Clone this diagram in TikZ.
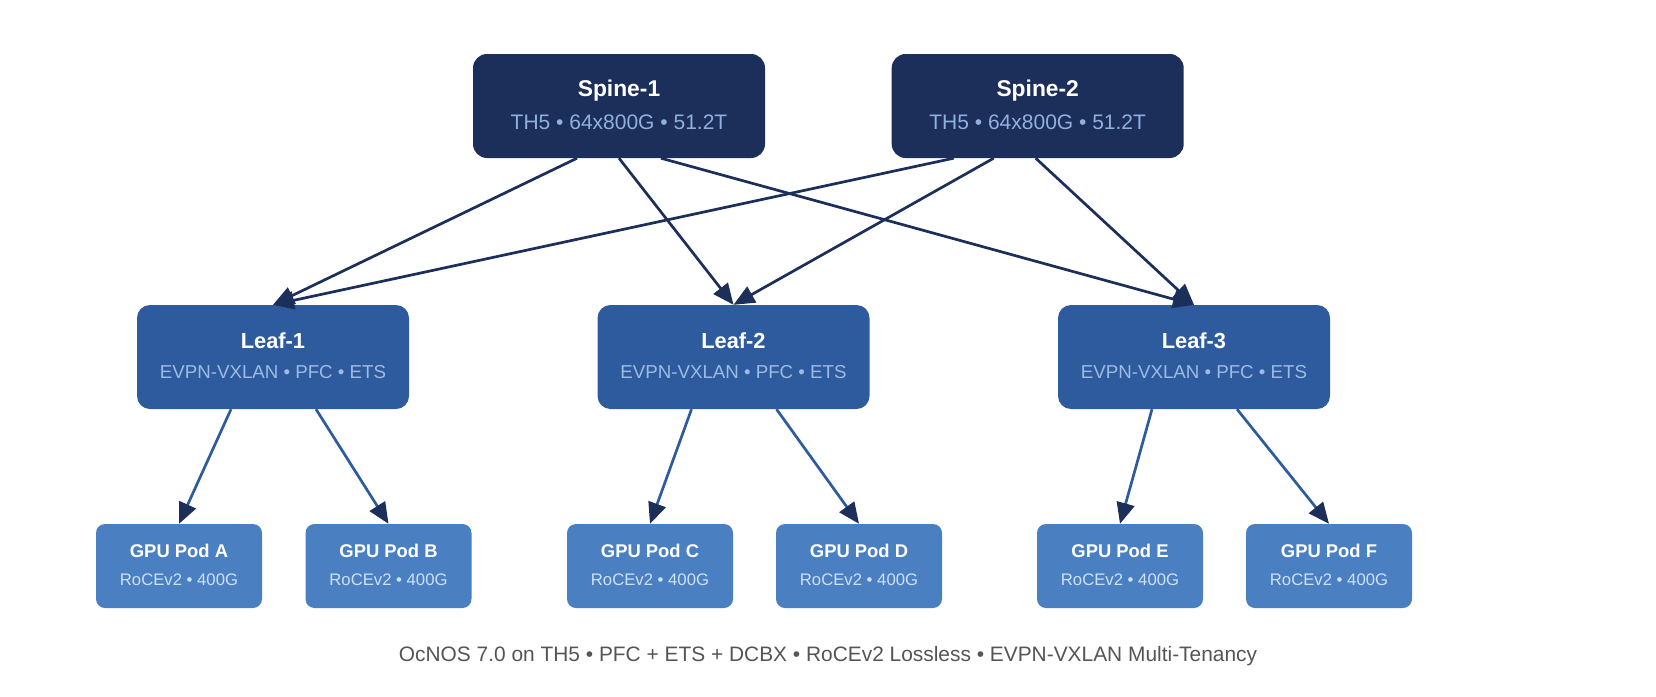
\documentclass[tikz,border=0pt]{standalone}
\usepackage{fontspec}
\setmainfont{Liberation Sans}
\usetikzlibrary{arrows.meta,calc}
\definecolor{spinec}{HTML}{1C2E5A}
\definecolor{leafc}{HTML}{2D5B9E}
\definecolor{podc}{HTML}{4A80C2}
\definecolor{spinesub}{HTML}{90B0E0}
\definecolor{leafsub}{HTML}{9DBBE3}
\definecolor{podsub}{HTML}{D0E0F5}
\definecolor{footc}{HTML}{555555}
\begin{document}
\begin{tikzpicture}[x=1pt,y=-1pt,
  spinebox/.style={fill=spinec, minimum width=292pt, minimum height=104pt, rounded corners=14pt, inner sep=0pt},
  leafbox/.style={fill=leafc, minimum width=272pt, minimum height=104pt, rounded corners=13pt, inner sep=0pt},
  podbox/.style={fill=podc, minimum width=166pt, minimum height=84pt, rounded corners=9pt, inner sep=0pt},
  spinetitle/.style={anchor=base, inner sep=0pt, text=white, font=\bfseries\fontsize{22.8}{26}\selectfont},
  spinesubt/.style={anchor=base, inner sep=0pt, text=spinesub, font=\fontsize{21}{24}\selectfont},
  leaftitle/.style={anchor=base, inner sep=0pt, text=white, font=\bfseries\fontsize{21.8}{26}\selectfont},
  leafsubt/.style={anchor=base, inner sep=0pt, text=leafsub, font=\fontsize{18.7}{22}\selectfont},
  podtitle/.style={anchor=base, inner sep=0pt, text=white, font=\bfseries\fontsize{18.4}{22}\selectfont},
  podsubt/.style={anchor=base, inner sep=0pt, text=podsub, font=\fontsize{16.7}{20}\selectfont},
  footer/.style={anchor=base, inner sep=0pt, text=footc, font=\fontsize{20.9}{24}\selectfont},
  spedge/.style={draw=spinec, line width=2.7pt, -{Triangle[length=21pt,width=18pt]}},
  podedge/.style={draw=leafc, line width=2.7pt, -{Triangle[length=21pt,width=18pt,color=spinec,fill=spinec]}}
]
\useasboundingbox[fill=white] (0,0) rectangle (1656,696);

% spines
\node[spinebox] (s1) at (619,106) {};
\node[spinebox] (s2) at (1037.7,106) {};
\node[spinetitle] (s1t) at (619,96) {Spine-1};
\node[spinesubt] (s1s) at (619,129) {TH5 • 64x800G • 51.2T};
\node[spinetitle] (s2t) at (1037.7,96) {Spine-2};
\node[spinesubt] (s2s) at (1037.7,129) {TH5 • 64x800G • 51.2T};

% leaves
\node[leafbox] (l1) at (273,357) {};
\node[leafbox] (l2) at (733.5,357) {};
\node[leafbox] (l3) at (1194,357) {};
\node[leaftitle] (l1t) at (273,348) {Leaf-1};
\node[leafsubt] (l1s) at (273,378) {EVPN-VXLAN • PFC • ETS};
\node[leaftitle] (l2t) at (733.5,348) {Leaf-2};
\node[leafsubt] (l2s) at (733.5,378) {EVPN-VXLAN • PFC • ETS};
\node[leaftitle] (l3t) at (1194,348) {Leaf-3};
\node[leafsubt] (l3s) at (1194,378) {EVPN-VXLAN • PFC • ETS};

% pods
\foreach \n/\x/\lab in {pa/179/A, pb/388.5/B, pc/650/C, pd/859/D, pe/1120/E, pf/1329/F}{
  \node[podbox] (\n) at (\x,566) {};
  \node[podtitle] (\n t) at (\x,557) {GPU Pod \lab};
  \node[podsubt] (\n s) at (\x,585) {RoCEv2 • 400G};
}

% spine -> leaf
\draw[spedge] ($(s1.south)+(-42,0)$) -- (l1.north);
\draw[spedge] (s1.south) -- (l2.north);
\draw[spedge] ($(s1.south)+(42,0)$) -- (l3.north);
\draw[spedge] ($(s2.south)+(-84,0)$) -- (l1.north);
\draw[spedge] ($(s2.south)+(-44,0)$) -- (l2.north);
\draw[spedge] ($(s2.south)+(-2,0)$) -- (l3.north);

% leaf -> pod
\draw[podedge] ($(l1.south)+(-42,0)$) -- (pa.north);
\draw[podedge] ($(l1.south)+(43,0)$) -- (pb.north);
\draw[podedge] ($(l2.south)+(-42,0)$) -- (pc.north);
\draw[podedge] ($(l2.south)+(43,0)$) -- (pd.north);
\draw[podedge] ($(l3.south)+(-42,0)$) -- (pe.north);
\draw[podedge] ($(l3.south)+(43,0)$) -- (pf.north);

\node[footer] (foot) at (828,661) {OcNOS 7.0 on TH5 • PFC + ETS + DCBX • RoCEv2 Lossless • EVPN-VXLAN Multi-Tenancy};
\end{tikzpicture}
\end{document}
